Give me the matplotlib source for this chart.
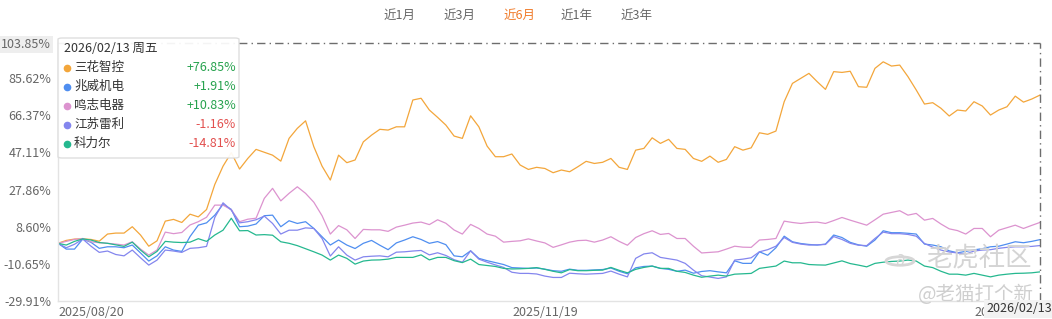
import matplotlib
matplotlib.use("Agg")
import matplotlib.pyplot as plt
import matplotlib.patches as patches
import matplotlib.transforms as mtransforms
from matplotlib.lines import Line2D

plt.rcParams['font.family'] = ['Noto Sans CJK SC', 'DejaVu Sans']

# ---- data (cumulative return, %) ----
names = ["三花智控", "兆威机电", "鸣志电器", "江苏雷利", "科力尔"]
colors = ["#f3a63b", "#4f8ef0", "#dc93cf", "#8486ee", "#25b88f"]
final_labels = ["+76.85%", "+1.91%", "+10.83%", "-1.16%", "-14.81%"]

sanhua = [0, 1.5, 2.2, 2.3, 2.0, 1.1, 4.8, 5.3, 5.3, 8.6,
          4.3, -1.5, 1.3, 11.5, 12.4, 10.8, 15.1, 13.7, 17.5, 30.5,
          40.0, 47.0, 38.5, 44.0, 48.7, 47.2, 45.7, 42.6, 54.4, 59.6,
          63.5, 50.1, 40.0, 32.8, 45.7, 41.8, 43.2, 52.6, 56.1, 59.1,
          58.7, 60.4, 60.4, 74.3, 75.2, 69.1, 65.3, 61.3, 55.6, 54.4,
          66.1, 60.4, 50.4, 44.9, 44.9, 46.3, 40.6, 38.3, 39.4, 38.8,
          36.6, 38.0, 37.1, 39.7, 42.5, 41.4, 42.0, 44.0, 39.4, 38.3,
          48.3, 49.2, 54.7, 51.8, 53.9, 49.2, 48.7, 44.0, 42.5, 45.2,
          42.0, 43.5, 50.1, 48.3, 49.5, 57.3, 56.5, 58.2, 73.4, 82.9,
          85.5, 88.1, 83.8, 79.8, 89.0, 88.6, 89.2, 81.2, 80.9, 90.7,
          94.1, 91.9, 92.4, 86.4, 79.5, 72.2, 72.9, 70.0, 66.0, 69.1,
          68.6, 73.4, 71.2, 66.5, 69.1, 70.8, 76.3, 73.2, 74.8, 76.85]

zhaowei = [0, -3.0, -3.0, 2.2, 0.5, -2.6, -1.8, -1.8, -2.3, -0.9,
           -5.0, -9.2, -6.5, -1.8, -3.5, -4.2, 3.5, 9.4, 10.6, 14.6,
           20.2, 17.6, 8.6, 8.9, 10.0, 14.3, 14.6, 8.6, 11.7, 10.3,
           11.2, 7.7, 3.4, -0.9, 1.7, -0.9, -2.7, 0.0, 1.5, -1.0,
           -3.3, 0.2, 1.7, 3.4, 2.0, 0.0, 0.9, -0.7, -6.5, -7.0,
           -3.9, -7.8, -9.0, -10.0, -11.0, -12.6, -12.8, -13.0, -12.8, -13.4,
           -14.2, -14.5, -13.4, -14.0, -14.0, -13.8, -13.6, -12.8, -14.5, -15.8,
           -12.7, -12.0, -11.8, -13.0, -13.5, -14.5, -13.9, -15.5, -14.6, -14.2,
           -14.8, -15.3, -9.1, -10.4, -10.4, -4.4, -6.2, -2.3, 3.7, 0.8,
           -0.1, -0.6, -0.9, -0.4, 4.3, 3.0, 0.5, -0.8, -1.5, 1.7,
           6.5, 5.5, 5.5, 5.2, 4.8, -0.4, -0.9, -1.8, -3.9, -4.9,
           -4.2, -3.4, -2.8, -1.8, -1.5, -0.4, 0.8, 0.3, 1.0, 1.91]

mingzhi = [0, 1.0, 2.0, 2.5, 0.8, 0.3, 0.0, -0.4, -0.9, 0.8,
           -3.0, -6.1, -3.5, 5.8, 5.0, 5.6, 9.5, 11.2, 13.5, 19.8,
           19.8, 17.4, 11.2, 12.5, 13.0, 23.3, 28.5, 22.0, 25.9, 29.3,
           25.9, 21.3, 14.3, 4.8, 9.2, 7.0, 2.5, 7.2, 7.0, 7.0,
           6.2, 8.4, 9.4, 10.5, 11.0, 9.7, 12.2, 10.4, 6.9, 4.8,
           9.8, 7.7, 4.8, 3.7, 0.6, 1.0, 1.3, 2.3, 1.2, 0.2,
           -2.1, -0.8, 0.6, 1.4, 1.6, 0.6, 1.7, 3.4, 1.0, -1.0,
           3.0, 5.0, 6.5, 4.6, 5.1, 2.5, 2.5, -1.5, -5.0, -4.7,
           -4.4, -3.0, -1.5, -2.0, -2.1, 1.7, 2.0, 2.5, 11.5, 10.8,
           10.3, 10.8, 11.0, 10.3, 11.8, 13.4, 12.0, 10.7, 9.4, 12.2,
           15.1, 16.0, 16.9, 14.6, 15.5, 12.0, 12.9, 10.0, 7.5, 6.6,
           4.8, 7.7, 7.7, 3.4, 6.8, 8.1, 9.4, 7.7, 9.3, 10.83]

jiangsu = [0, -2.3, -0.5, 2.2, -1.5, -4.7, -4.0, -5.8, -6.5, -3.5,
           -7.5, -11.3, -8.7, -3.5, -4.0, -4.7, -2.6, -2.3, -1.6, 13.4,
           21.0, 17.2, 10.6, 11.2, 12.2, 14.1, 10.3, 4.8, 6.8, 6.8,
           8.0, 7.7, 2.5, -6.6, -1.8, -6.1, -8.7, -7.0, -6.7, -6.5,
           -7.0, -4.6, -4.4, -4.0, -3.7, -6.0, -4.9, -6.3, -8.5, -9.8,
           -3.9, -8.2, -9.8, -11.2, -12.5, -15.0, -15.6, -15.6, -15.9, -17.0,
           -17.7, -17.7, -15.5, -15.8, -16.0, -15.8, -15.6, -14.4, -16.0, -17.4,
           -7.8, -5.5, -4.9, -7.3, -8.0, -8.7, -10.4, -13.9, -16.8, -17.5,
           -18.2, -17.4, -8.7, -8.2, -7.5, -4.4, -3.3, -1.5, 3.0, 0.5,
           -0.4, -0.9, -0.8, -0.6, 3.5, 2.0, 0.0, -1.0, -1.2, 2.5,
           5.8, 5.0, 5.0, 4.6, 3.7, -0.1, -2.0, -3.5, -4.5, -5.0,
           -5.6, -4.0, -3.5, -3.3, -2.6, -2.1, -1.8, -1.8, -1.6, -1.16]

keli = [0, -0.9, 1.0, 2.3, 1.7, 0.4, 0.0, -0.8, -1.6, 0.6,
        -3.5, -7.0, -4.2, 1.0, 0.6, 0.4, 0.6, 2.4, 1.0, 4.3,
        6.8, 13.0, 6.5, 6.6, 4.3, 4.5, 4.2, 0.8, 0.0, -1.2,
        -2.8, -4.4, -6.1, -8.7, -6.1, -7.8, -10.8, -9.2, -8.7, -8.6,
        -8.2, -7.3, -7.3, -7.3, -6.0, -8.6, -7.3, -7.3, -9.0, -10.0,
        -8.2, -11.0, -11.5, -12.0, -13.0, -13.3, -13.2, -13.0, -12.6, -13.5,
        -14.5, -15.3, -13.6, -14.2, -14.2, -14.0, -13.9, -12.5, -14.0, -15.3,
        -13.5, -12.5, -11.8, -13.0, -13.0, -14.5, -15.1, -16.5, -17.6, -17.0,
        -16.5, -17.0, -16.0, -15.8, -15.6, -13.0, -12.4, -11.8, -9.2, -10.1,
        -10.1, -11.0, -11.2, -11.3, -10.2, -9.1, -10.5, -11.3, -12.2, -10.4,
        -9.8, -9.4, -9.2, -8.7, -9.2, -11.8, -12.6, -14.5, -16.0, -16.0,
        -16.5, -15.6, -16.5, -17.4, -16.5, -16.0, -15.6, -15.5, -15.3, -14.81]

series = [sanhua, zhaowei, mingzhi, jiangsu, keli]

y_ticks = [-29.91, -10.65, 8.60, 27.86, 47.11, 66.37, 85.62, 103.85]
x_labels = ["2025/08/20", "2025/11/19", "2026/02/13"]
x_label_idx = [0, 59, 119]
period_buttons = ["近1月", "近3月", "近6月", "近1年", "近3年"]
active_button = "近6月"
tooltip_title = "2026/02/13 周五"

W, H = 1052, 319


def fx(px):
    return px / W


def fy(py):
    return 1 - py / H


fig = plt.figure(figsize=(W / 100, H / 100), dpi=100)
fig.patch.set_facecolor("white")
ax = fig.add_axes([fx(58), fy(301), fx(1040) - fx(58), fy(43) - fy(301)])

for vals, col in zip(series, colors):
    ax.plot(range(len(vals)), vals, color=col, lw=0.9)

n = len(sanhua)
ax.set_xlim(0, n - 1)
ax.set_ylim(y_ticks[0], y_ticks[-1])

for side in ["top", "right"]:
    ax.spines[side].set_visible(False)
for side in ["left", "bottom"]:
    ax.spines[side].set_color("#e3e3e3")
    ax.spines[side].set_linewidth(1)

ax.set_yticks(y_ticks)
ax.set_yticklabels([f"{v:.2f}%" for v in y_ticks], fontsize=9, color="#666666")
ax.tick_params(axis="y", length=0, pad=5)
ax.yaxis.get_ticklabels()[-1].set_bbox(dict(facecolor="#eeeeee", edgecolor="none", pad=1.5))
ax.set_xticks([])

# crosshair of the hovered point
ax.axhline(y_ticks[-1], color="#6d6d6d", lw=1, ls=(0, (6, 3, 1, 3)), clip_on=False, zorder=3)
ax.axvline(n - 1, color="#6d6d6d", lw=1, ls=(0, (6, 3, 1, 3)), clip_on=False, zorder=3)

# x labels (the last one sits under the pointer label, as in the source)
xt = mtransforms.blended_transform_factory(ax.transData, fig.transFigure)
ax.text(x_label_idx[0], fy(312), x_labels[0], transform=xt, ha="left", va="center",
        fontsize=9, color="#666666")
ax.text(x_label_idx[1], fy(312), x_labels[1], transform=xt, ha="center", va="center",
        fontsize=9, color="#666666")
ax.text(x_label_idx[2], fy(312), x_labels[2], transform=xt, ha="right", va="center",
        fontsize=9, color="#666666")
fig.text(fx(1019), fy(309), x_labels[2], ha="center", va="center", fontsize=9,
         color="#333333", zorder=12,
         bbox=dict(facecolor="#f2f2f2", edgecolor="none", alpha=1.0, pad=1.5))

# period buttons
for label, xc in zip(period_buttons, [400, 460, 520, 577, 637]):
    fig.text(fx(xc), fy(15), label, ha="center", va="center", fontsize=9,
             color="#f07b2a" if label == active_button else "#666666")

# tooltip
box = patches.FancyBboxPatch((fx(58), fy(158)), fx(239) - fx(58), fy(38) - fy(158),
                             boxstyle="round,pad=0,rounding_size=0.004",
                             transform=fig.transFigure, facecolor="white", alpha=0.93,
                             edgecolor="#dcdcdc", lw=1, zorder=10)
fig.add_artist(box)
fig.text(fx(64), fy(49), tooltip_title, ha="left", va="center", fontsize=9,
         color="#333333", zorder=11)
for k, (name, col, lab) in enumerate(zip(names, colors, final_labels)):
    yy = fy(67.7 + 19 * k)
    fig.add_artist(Line2D([fx(67)], [yy], marker="o", markersize=4.5, color=col,
                          transform=fig.transFigure, zorder=11))
    fig.text(fx(74), yy, name, ha="left", va="center", fontsize=9, color="#333333", zorder=11)
    fig.text(fx(236), yy, lab, ha="right", va="center", fontsize=9,
             color="#27a24e" if lab.startswith("+") else "#e2504f", zorder=11)

# watermarks
fig.add_artist(patches.Circle((fx(900), fy(261)), 14 / W, transform=fig.transFigure,
                              facecolor="none", edgecolor="#d6d6d6", lw=2, zorder=9))
fig.text(fx(900), fy(261), "∂", ha="center", va="center", fontsize=13, color="#d6d6d6",
         family="DejaVu Sans", zorder=9)
fig.text(fx(979), fy(258), "老虎社区", ha="center", va="center", fontsize=19,
         color="#d4d4d4", zorder=9)
fig.text(fx(976), fy(294), "@老猫打个新", ha="center", va="center", fontsize=14,
         color="#cfcfcf", zorder=9)

fig.savefig("out.png", dpi=100)
